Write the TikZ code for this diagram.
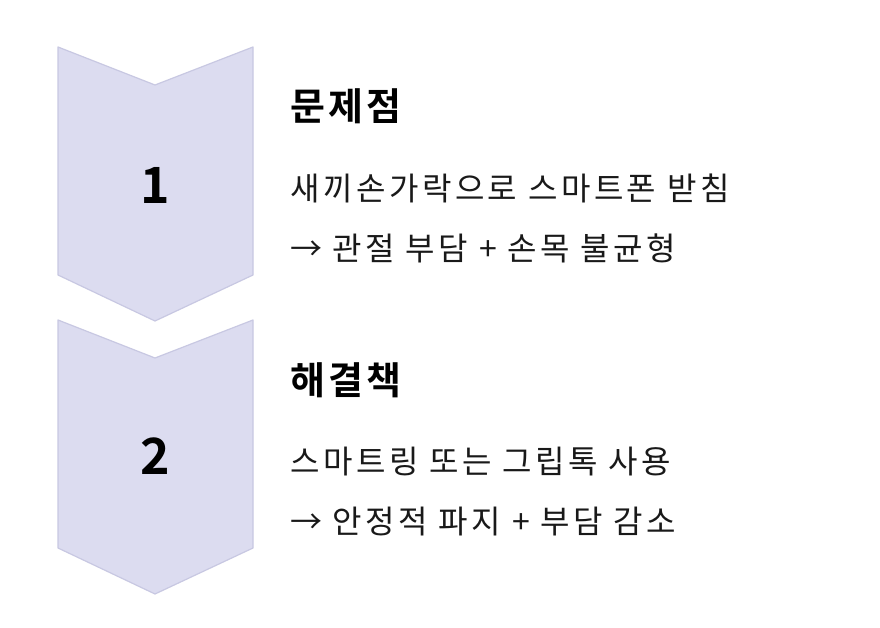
\documentclass[tikz,border=0pt]{standalone}
\usepackage{fontspec}
\newfontfamily\kr[LetterSpace=11]{Noto Sans CJK KR}
\newfontfamily\krb{Noto Sans CJK KR Bold}
\newfontfamily\krt[LetterSpace=9]{Noto Sans CJK KR Bold}
\begin{document}
\begin{tikzpicture}[x=1pt,y=-1pt,
  chev/.style={fill=chevfill,draw=chevline,line width=1.2pt,line join=round},
  num/.style={font=\krb\fontsize{50}{50}\selectfont,text=black},
  title/.style={anchor=west,inner sep=0pt,font=\krt\fontsize{38}{38}\selectfont,text=black},
  body/.style={anchor=west,inner sep=0pt,font=\kr\fontsize{32}{32}\selectfont,text=black!90}]
\definecolor{chevfill}{HTML}{DCDCF0}
\definecolor{chevline}{HTML}{C8C8E2}
\useasboundingbox (0,0) rectangle (880,628);
\fill[white] (0,0) rectangle (880,628);
\draw[chev] (58,47) -- (155,85) -- (253,47) -- (253,275) -- (155,321) -- (58,275) -- cycle;
\draw[chev] (58,320) -- (155,358) -- (253,320) -- (253,548) -- (155,594) -- (58,548) -- cycle;
\node[num] (n1) at (155,185) {1};
\node[num] (n2) at (155,456) {2};
\node[title] (t1) at (290,106) {문제점};
\node[body] (b1a) at (290,188) {새끼손가락으로 스마트폰 받침};
\node[body] (b1b) at (290,248) {→ 관절 부담 + 손목 불균형};
\node[title] (t2) at (290,380) {해결책};
\node[body] (b2a) at (290,462) {스마트링 또는 그립톡 사용};
\node[body] (b2b) at (290,522) {→ 안정적 파지 + 부담 감소};
\end{tikzpicture}
\end{document}
